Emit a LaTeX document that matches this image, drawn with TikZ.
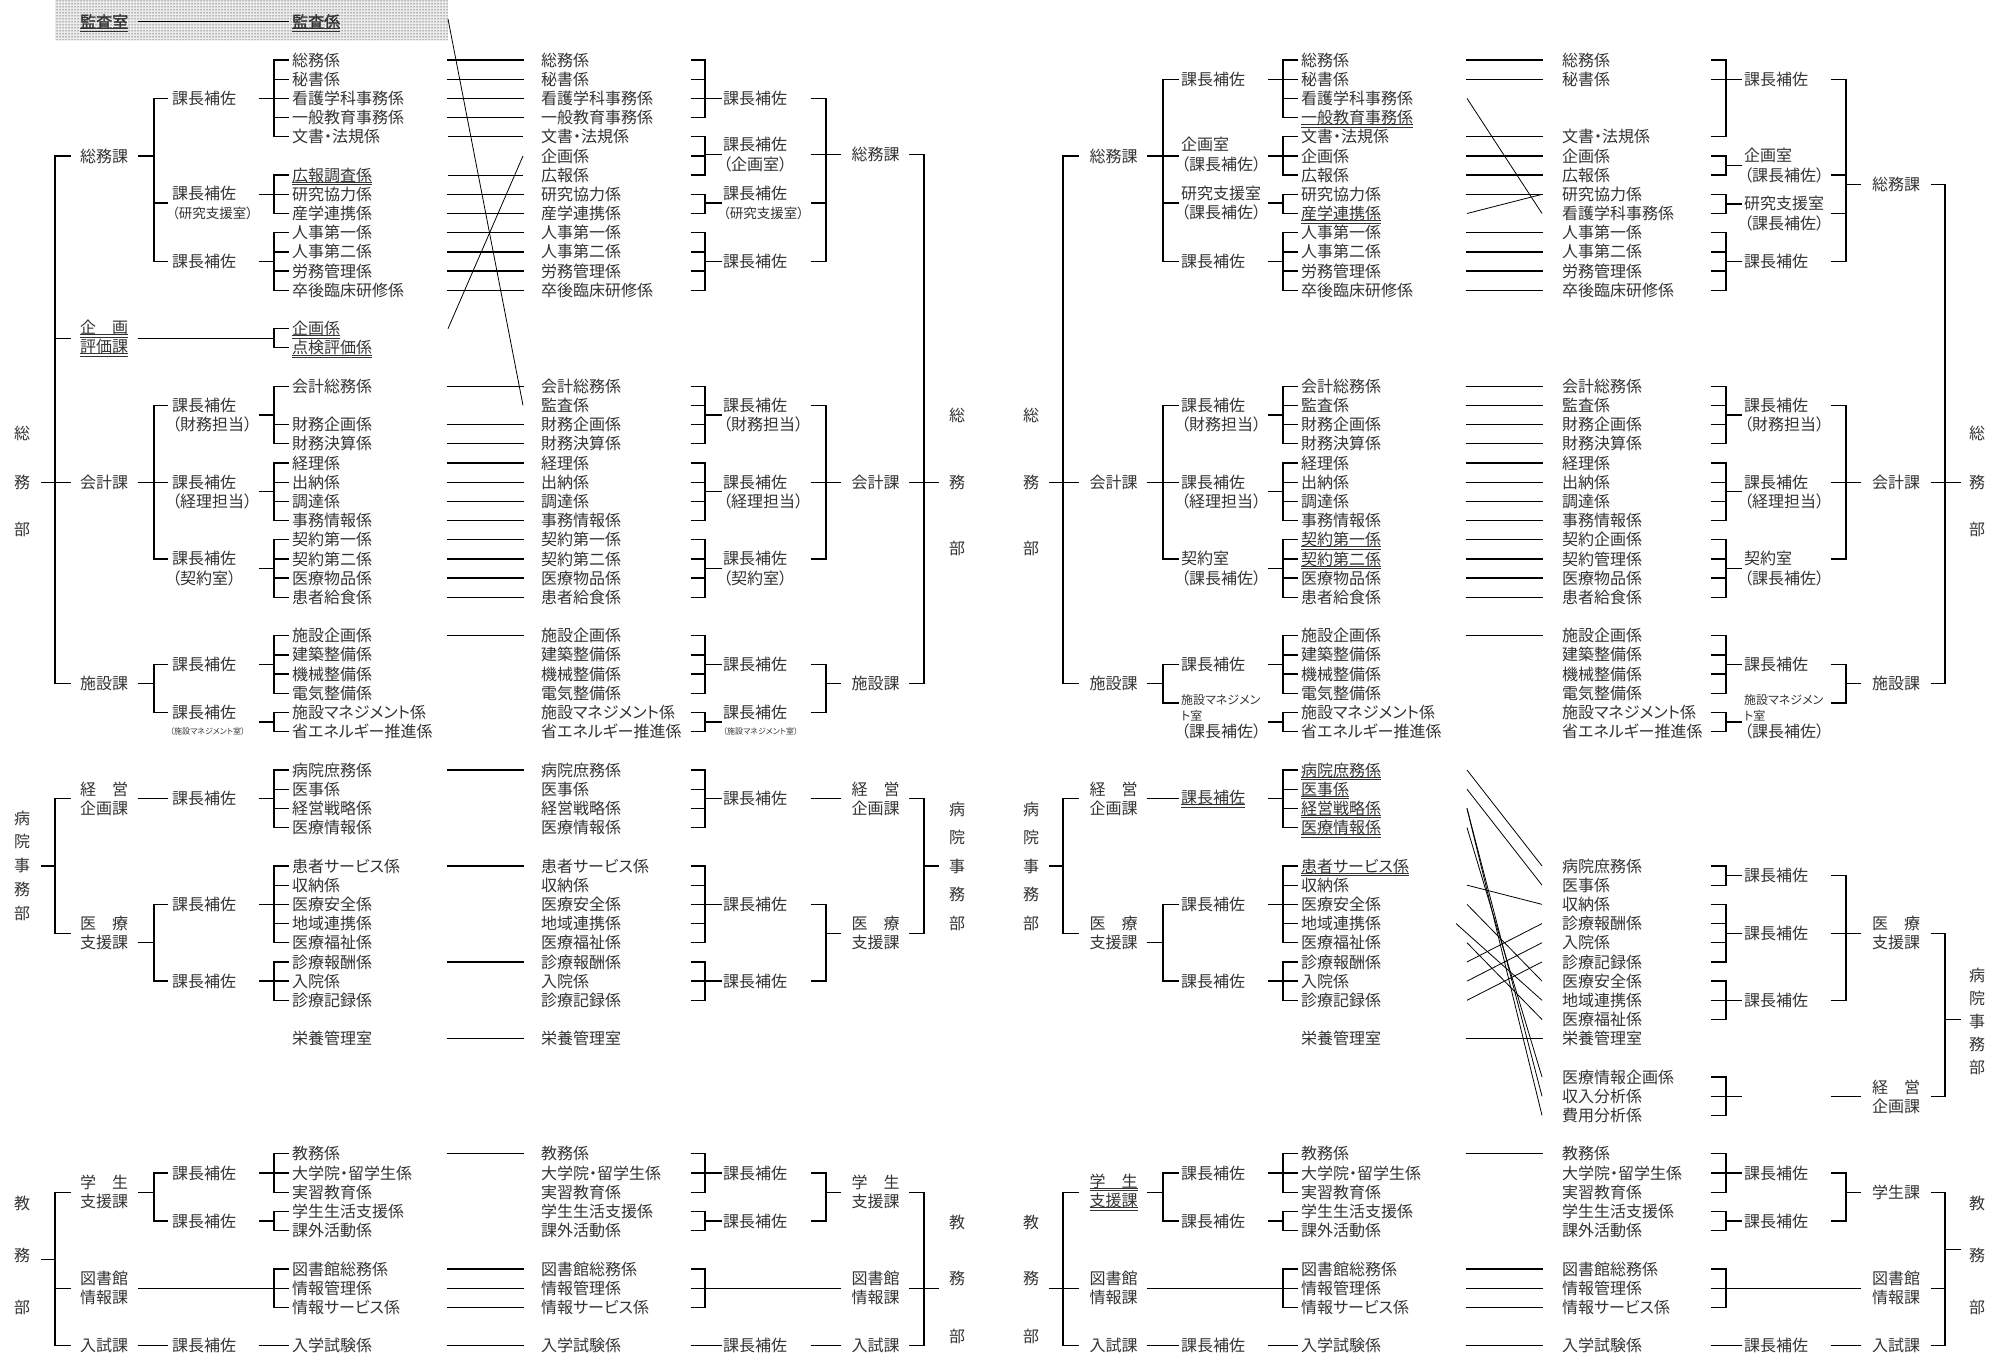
\documentclass[tikz,border=0pt]{standalone}
\usepackage{fontspec}
\setmainfont{Noto Sans CJK JP}[RawFeature=+palt, AutoFakeBold=2]
\usetikzlibrary{patterns}

\newcommand{\mainfs}{\fontsize{16}{19.19}\selectfont}
\newcommand{\midfs}{\fontsize{12}{16}\selectfont}
\newcommand{\tinyfs}{\fontsize{8}{10}\selectfont}
\newcommand{\narrowfs}{\fontsize{13.5}{19.19}\selectfont}
\newcommand{\dul}[1]{\setbox0=\hbox{#1}\rlap{\rule[-1.3pt]{\wd0}{0.7pt}}\rlap{\rule[-3.6pt]{\wd0}{0.7pt}}\box0}
% bracket: (#1,#4) to spine #2 (rows #5..#6), ticks to #3 at rows #7
\newcommand{\brk}[7]{%
  \draw[ln] (#1,#4) -- (#2,#4);
  \draw[ln] (#2,#5) -- (#2,#6);
  \foreach \rr in {#7} {\draw[ln] (#2,\rr) -- (#3,\rr);}}
\newcommand{\rowsat}[3]{\foreach \rr/\nm in #3 {\node[txt] (#2-\rr) at (#1,\rr) {\nm};}}
\newcommand{\jinji}{9/人事第一係, 10/人事第二係, 11/労務管理係, 12/卒後臨床研修係}
\newcommand{\keiri}{19/財務企画係, 20/財務決算係, 21/経理係, 22/出納係, 23/調達係, 24/事務情報係}
\newcommand{\shisetsu}{30/施設企画係, 31/建築整備係, 32/機械整備係, 33/電気整備係, 34/施設マネジメント係, 35/省エネルギー推進係}
\newcommand{\iryou}{43/収納係, 44/医療安全係, 45/地域連携係, 46/医療福祉係, 47/診療報酬係, 48/入院係, 49/診療記録係, 51/栄養管理室}
\newcommand{\kyomu}{57/教務係, 58/大学院・留学生係, 59/実習教育係, 60/学生生活支援係, 61/課外活動係, 63/図書館総務係, 64/情報管理係, 65/情報サービス係, 67/入学試験係}

\begin{document}
\begin{tikzpicture}[x=1pt, y=-19.19pt,
  ln/.style={line width=1.3pt, line cap=rect},
  thinln/.style={line width=0.8pt},
  txt/.style={inner sep=0pt, anchor=west, font=\mainfs, text=black!80, text height=13.3pt, text depth=1.1pt},
  ch/.style={txt, anchor=center},
  lbl/.style={inner sep=0pt, anchor=west, align=left, font=\mainfs, text=black!80},
  dv/.style={inner sep=0pt, align=center, font=\mainfs, text=black!80}]
\useasboundingbox (0,-3.1266) rectangle (1989,67.43);

% left half: left column
\fill[black!8] (55,-3.1266) rectangle (448,-1.04);
\fill[pattern=dots, pattern color=black] (55,-3.1266) rectangle (448,-1.04);
\node[txt] (a-kansa) at (80,-2) {\dul{\bfseries 監査室}};
\node[txt] (a-kansa2) at (292,-2) {\dul{\bfseries 監査係}};
\draw[ln] (139,-2) -- (288,-2);
\foreach \zi/\rr [count=\i] in {総/19.44, 務/22, 部/24.44, 病/39.5, 院/40.74, 事/41.98, 務/43.22, 部/44.46, 教/59.6, 務/62.3, 部/65}
  \node[ch] (a-bu\i) at (22,\rr) {\zi};
\node[dv] (a-soumu) at (104,5) {総務課};
\node[dv] (a-kikaku) at (104,14.5) {\dul{企　画}\\\dul{評価課}};
\node[dv] (a-kaikei) at (104,22) {会計課};
\node[dv] (a-shisetsu) at (104,32.5) {施設課};
\node[dv] (a-keiei) at (104,38.5) {経　営\\企画課};
\node[dv] (a-iryou) at (104,45.5) {医　療\\支援課};
\node[dv] (a-gakusei) at (104,59) {学　生\\支援課};
\node[dv] (a-tosho) at (104,64) {図書館\\情報課};
\node[dv] (a-nyushi) at (104,67) {入試課};
\foreach \rr/\nm [count=\i] in {2/課長補佐, 7.45/{課長補佐\\{\narrowfs （研究支援室）}}, 10.5/課長補佐, 18.5/{課長補佐\\（財務担当）}, 22.5/{課長補佐\\（経理担当）}, 26.5/{課長補佐\\（契約室）}, 31.5/課長補佐, 34/課長補佐, 38.5/課長補佐, 44/課長補佐, 48/課長補佐, 58/課長補佐, 60.5/課長補佐, 67/課長補佐}
  \node[lbl] (a-hosa\i) at (172,\rr) {\nm};
\node[lbl, font=\tinyfs] (a-mgmt) at (170,35) {（施設マネジメント室）};
\rowsat{292}{a}{{0/総務係, 1/秘書係, 2/看護学科事務係, 3/一般教育事務係, 4/文書・法規係, 6/\dul{広報調査係}, 7/研究協力係, 8/産学連携係, 14/\dul{企画係}, 15/\dul{点検評価係}, 17/会計総務係, 25/契約第一係, 26/契約第二係, 27/医療物品係, 28/患者給食係, 37/病院庶務係, 38/医事係, 39/経営戦略係, 40/医療情報係, 42/患者サービス係}}
\rowsat{292}{a}{\jinji}
\rowsat{292}{a}{\keiri}
\rowsat{292}{a}{\shisetsu}
\rowsat{292}{a}{\iryou}
\rowsat{292}{a}{\kyomu}
\brk{42}{55}{70}{22}{5}{32.5}{5,14.5,22,32.5}
\brk{139}{154}{167}{5}{2}{10.5}{2,7.45,10.5}
\brk{260}{274}{288}{2}{0}{4}{0,1,2,3,4}
\brk{260}{274}{288}{7}{6}{8}{6,7,8}
\brk{260}{274}{288}{10.5}{9}{12}{9,10,11,12}
\brk{139}{274}{288}{14.5}{14}{15}{14,15}
\brk{139}{154}{167}{22}{18}{26}{18,22,26}
\brk{260}{274}{288}{18.5}{17}{20}{17,19,20}
\brk{260}{274}{288}{22.5}{21}{24}{21,22,23,24}
\brk{260}{274}{288}{26.5}{25}{28}{25,26,27,28}
\brk{139}{154}{167}{32.5}{31.5}{34}{31.5,34}
\brk{260}{274}{288}{31.5}{30}{33}{30,31,32,33}
\brk{260}{274}{288}{34.5}{34}{35}{34,35}
\brk{42}{55}{70}{42}{38.5}{45.5}{38.5,45.5}
\draw[ln] (139,38.5) -- (167,38.5);
\brk{260}{274}{288}{38.5}{37}{40}{37,38,39,40}
\brk{139}{154}{167}{46}{44}{48}{44,48}
\brk{260}{274}{288}{44}{42}{46}{42,43,44,45,46}
\brk{260}{274}{288}{48}{47}{49}{47,48,49}
\brk{42}{55}{70}{62.5}{59}{67}{59,64,67}
\brk{139}{154}{167}{59}{58}{60.5}{58,60.5}
\brk{260}{274}{288}{58}{57}{59}{57,58,59}
\brk{260}{274}{288}{60.5}{60}{61}{60,61}
\brk{139}{274}{288}{64}{63}{65}{63,64,65}
\draw[ln] (139,67) -- (167,67);
\draw[ln] (260,67) -- (288,67);

% left half: links
\foreach \rr in {0,1,2,3,7,8,9,...,12,17,19,20,...,28,30,...,35,37,...,40,42,...,49,51,57,...,61,63,64,65,67}
  \draw[ln] (448,\rr) -- (523,\rr);
\foreach \rr in {4,6} \draw[thinln] (448,\rr) -- (523,\rr);
\draw[thinln] (448,-2.14) -- (523,18);
\draw[thinln] (448,14) -- (523,5);

% left half: right column
\rowsat{541}{b}{{0/総務係, 1/秘書係, 2/看護学科事務係, 3/一般教育事務係, 4/文書・法規係, 5/企画係, 6/広報係, 7/研究協力係, 8/産学連携係, 17/会計総務係, 18/監査係, 25/契約第一係, 26/契約第二係, 27/医療物品係, 28/患者給食係, 37/病院庶務係, 38/医事係, 39/経営戦略係, 40/医療情報係, 42/患者サービス係}}
\rowsat{541}{b}{\jinji}
\rowsat{541}{b}{\keiri}
\rowsat{541}{b}{\shisetsu}
\rowsat{541}{b}{\iryou}
\rowsat{541}{b}{\kyomu}
\foreach \rr/\nm [count=\i] in {2/課長補佐, 4.93/{課長補佐\\（企画室）}, 7.45/{課長補佐\\{\narrowfs （研究支援室）}}, 10.5/課長補佐, 18.5/{課長補佐\\（財務担当）}, 22.5/{課長補佐\\（経理担当）}, 26.5/{課長補佐\\（契約室）}, 31.5/課長補佐, 34/課長補佐, 38.5/課長補佐, 44/課長補佐, 48/課長補佐, 58/課長補佐, 60.5/課長補佐, 67/課長補佐}
  \node[lbl] (b-hosa\i) at (723,\rr) {\nm};
\node[lbl, font=\tinyfs] (b-mgmt) at (723,35) {（施設マネジメント室）};
\node[dv] (b-soumu) at (875.5,4.93) {総務課};
\node[dv] (b-kaikei) at (875.5,22) {会計課};
\node[dv] (b-shisetsu) at (875.5,32.5) {施設課};
\node[dv] (b-keiei) at (875.5,38.5) {経　営\\企画課};
\node[dv] (b-iryou) at (875.5,45.5) {医　療\\支援課};
\node[dv] (b-gakusei) at (875.5,59) {学　生\\支援課};
\node[dv] (b-tosho) at (875.5,64) {図書館\\情報課};
\node[dv] (b-nyushi) at (875.5,67) {入試課};
\foreach \zi/\rr [count=\i] in {総/18.5, 務/22, 部/25.45, 病/39.05, 院/40.5, 事/42, 務/43.5, 部/45, 教/60.57, 務/63.5, 部/66.5}
  \node[ch] (b-bu\i) at (957,\rr) {\zi};
\brk{721}{705}{692}{2}{0}{3}{0,1,2,3}
\brk{721}{705}{692}{4.93}{4}{6}{4,5,6}
\brk{721}{705}{692}{7.45}{7}{8}{7,8}
\brk{721}{705}{692}{10.5}{9}{12}{9,10,11,12}
\brk{840}{826}{812}{4.93}{2}{10.5}{2,4.93,7.45,10.5}
\brk{721}{705}{692}{18.5}{17}{20}{17,18,19,20}
\brk{721}{705}{692}{22.5}{21}{24}{21,22,23,24}
\brk{721}{705}{692}{26.5}{25}{28}{25,26,27,28}
\brk{840}{826}{812}{22}{18}{26}{18,22,26}
\brk{721}{705}{692}{31.5}{30}{33}{30,31,32,33}
\brk{721}{705}{692}{34.5}{34}{35}{34,35}
\brk{840}{826}{812}{32.5}{31.5}{34}{31.5,34}
\brk{938}{924}{910}{22}{4.93}{32.5}{4.93,22,32.5}
\brk{721}{705}{692}{38.5}{37}{40}{37,38,39,40}
\draw[ln] (812,38.5) -- (840,38.5);
\brk{721}{705}{692}{44}{42}{46}{42,43,44,45,46}
\brk{721}{705}{692}{48}{47}{49}{47,48,49}
\brk{840}{826}{812}{45.5}{44}{48}{44,48}
\brk{938}{924}{910}{42}{38.5}{45.5}{38.5,45.5}
\brk{721}{705}{692}{58}{57}{59}{57,58,59}
\brk{721}{705}{692}{60.5}{60}{61}{60,61}
\brk{840}{826}{812}{59}{58}{60.5}{58,60.5}
\brk{840}{705}{692}{64}{63}{65}{63,64,65}
\draw[ln] (692,67) -- (721,67);
\draw[ln] (812,67) -- (840,67);
\brk{938}{924}{910}{64}{59}{67}{59,64,67}

% right half: left column
\foreach \zi/\rr [count=\i] in {総/18.5, 務/22, 部/25.45, 病/39.05, 院/40.5, 事/42, 務/43.5, 部/45, 教/60.57, 務/63.5, 部/66.5}
  \node[ch] (c-bu\i) at (1031,\rr) {\zi};
\node[dv] (c-soumu) at (1113.5,5) {総務課};
\node[dv] (c-kaikei) at (1113.5,22) {会計課};
\node[dv] (c-shisetsu) at (1113.5,32.5) {施設課};
\node[dv] (c-keiei) at (1113.5,38.5) {経　営\\企画課};
\node[dv] (c-iryou) at (1113.5,45.5) {医　療\\支援課};
\node[dv] (c-gakusei) at (1113.5,59) {\dul{学　生}\\\dul{支援課}};
\node[dv] (c-tosho) at (1113.5,64) {図書館\\情報課};
\node[dv] (c-nyushi) at (1113.5,67) {入試課};
\foreach \rr/\nm [count=\i] in {1/課長補佐, 4.93/{企画室\\（課長補佐）}, 7.45/{研究支援室\\（課長補佐）}, 10.5/課長補佐, 18.5/{課長補佐\\（財務担当）}, 22.5/{課長補佐\\（経理担当）}, 26.5/{契約室\\（課長補佐）}, 31.5/課長補佐, 35/（課長補佐）, 38.5/\dul{課長補佐}, 44/課長補佐, 48/課長補佐, 58/課長補佐, 60.5/課長補佐, 67/課長補佐}
  \node[lbl] (c-hosa\i) at (1181,\rr) {\nm};
\node[lbl, font=\midfs] (c-mgmt) at (1181,33.78) {施設マネジメン\\ト室};
\rowsat{1301}{c}{{0/総務係, 1/秘書係, 2/看護学科事務係, 3/\dul{一般教育事務係}, 4/文書・法規係, 5/企画係, 6/広報係, 7/研究協力係, 8/\dul{産学連携係}, 17/会計総務係, 18/監査係, 25/\dul{契約第一係}, 26/\dul{契約第二係}, 27/医療物品係, 28/患者給食係, 37/\dul{病院庶務係}, 38/\dul{医事係}, 39/\dul{経営戦略係}, 40/\dul{医療情報係}, 42/\dul{患者サービス係}}}
\rowsat{1301}{c}{\jinji}
\rowsat{1301}{c}{\keiri}
\rowsat{1301}{c}{\shisetsu}
\rowsat{1301}{c}{\iryou}
\rowsat{1301}{c}{\kyomu}
\brk{1050}{1063}{1078}{22}{5}{32.5}{5,22,32.5}
\brk{1148}{1163}{1178}{5}{1}{10.5}{1,5,7.45,10.5}
\brk{1269}{1283}{1297}{1}{0}{3}{0,1,2,3}
\brk{1269}{1283}{1297}{5}{4}{6}{4,5,6}
\brk{1269}{1283}{1297}{7.45}{7}{8}{7,8}
\brk{1269}{1283}{1297}{10.5}{9}{12}{9,10,11,12}
\brk{1148}{1163}{1178}{22}{18}{26}{18,22,26}
\brk{1269}{1283}{1297}{18.5}{17}{20}{17,18,19,20}
\brk{1269}{1283}{1297}{22.5}{21}{24}{21,22,23,24}
\brk{1269}{1283}{1297}{26.5}{25}{28}{25,26,27,28}
\brk{1148}{1163}{1178}{32.5}{31.5}{33.5}{31.5,33.5}
\brk{1269}{1283}{1297}{31.5}{30}{33}{30,31,32,33}
\brk{1269}{1283}{1297}{34.5}{34}{35}{34,35}
\brk{1050}{1063}{1078}{42}{38.5}{45.5}{38.5,45.5}
\draw[ln] (1148,38.5) -- (1178,38.5);
\brk{1269}{1283}{1297}{38.5}{37}{40}{37,38,39,40}
\brk{1148}{1163}{1178}{46}{44}{48}{44,48}
\brk{1269}{1283}{1297}{44}{42}{46}{42,43,44,45,46}
\brk{1269}{1283}{1297}{48}{47}{49}{47,48,49}
\brk{1050}{1063}{1078}{64}{59}{67}{59,64,67}
\brk{1148}{1163}{1178}{59}{58}{60.5}{58,60.5}
\brk{1269}{1283}{1297}{58}{57}{59}{57,58,59}
\brk{1269}{1283}{1297}{60.5}{60}{61}{60,61}
\brk{1148}{1283}{1297}{64}{63}{65}{63,64,65}
\draw[ln] (1148,67) -- (1178,67);
\draw[ln] (1269,67) -- (1297,67);

% right half: links
\foreach \rr in {0,1,4,5,6,7,9,10,11,12,17,18,...,28,30,...,35,51,57,...,61,63,64,65,67}
  \draw[ln] (1467,\rr) -- (1542,\rr);
\foreach \p/\q in {2/8, 8/7, 37/42, 38/43, 39/54, 39/55, 40/53, 43/44, 44/48, 46/50, 47/45, 48/46, 49/47}
  \draw[thinln] (1467,\p) -- (1542,\q);
\draw[thinln] (1456,45) -- (1542,49);

% right half: right column
\rowsat{1562}{d}{{0/総務係, 1/秘書係, 4/文書・法規係, 5/企画係, 6/広報係, 7/研究協力係, 8/看護学科事務係, 17/会計総務係, 18/監査係, 25/契約企画係, 26/契約管理係, 27/医療物品係, 28/患者給食係, 42/病院庶務係, 43/医事係, 44/収納係, 45/診療報酬係, 46/入院係, 47/診療記録係, 48/医療安全係, 49/地域連携係, 50/医療福祉係, 51/栄養管理室, 53/医療情報企画係, 54/収入分析係, 55/費用分析係}}
\rowsat{1562}{d}{\jinji}
\rowsat{1562}{d}{\keiri}
\rowsat{1562}{d}{\shisetsu}
\rowsat{1562}{d}{\kyomu}
\foreach \rr/\nm [count=\i] in {1/課長補佐, 5.5/{企画室\\（課長補佐）}, 8/{研究支援室\\（課長補佐）}, 10.5/課長補佐, 18.5/{課長補佐\\（財務担当）}, 22.5/{課長補佐\\（経理担当）}, 26.5/{契約室\\（課長補佐）}, 31.5/課長補佐, 35/（課長補佐）, 42.5/課長補佐, 45.5/課長補佐, 49/課長補佐, 58/課長補佐, 60.5/課長補佐, 67/課長補佐}
  \node[lbl] (d-hosa\i) at (1744,\rr) {\nm};
\node[lbl, font=\midfs] (d-mgmt) at (1744,33.78) {施設マネジメン\\ト室};
\node[dv] (d-soumu) at (1896,6.5) {総務課};
\node[dv] (d-kaikei) at (1896,22) {会計課};
\node[dv] (d-shisetsu) at (1896,32.5) {施設課};
\node[dv] (d-iryou) at (1896,45.5) {医　療\\支援課};
\node[dv] (d-keiei) at (1896,54.05) {経　営\\企画課};
\node[dv] (d-gakusei) at (1896,59) {学生課};
\node[dv] (d-tosho) at (1896,64) {図書館\\情報課};
\node[dv] (d-nyushi) at (1896,67) {入試課};
\foreach \zi/\rr [count=\i] in {総/19.46, 務/22, 部/24.46, 病/47.7, 院/48.9, 事/50.1, 務/51.3, 部/52.5, 教/59.6, 務/62.27, 部/65}
  \node[ch] (d-bu\i) at (1977,\rr) {\zi};
\brk{1741}{1726}{1712}{1}{0}{4}{0,1,4}
\brk{1741}{1726}{1712}{5.5}{5}{6}{5,6}
\brk{1741}{1726}{1712}{7.5}{7}{8}{7,8}
\brk{1741}{1726}{1712}{10.5}{9}{12}{9,10,11,12}
\brk{1860}{1846}{1832}{6.5}{1}{10.5}{1,6,8,10.5}
\brk{1741}{1726}{1712}{18.5}{17}{20}{17,18,19,20}
\brk{1741}{1726}{1712}{22.5}{21}{24}{21,22,23,24}
\brk{1741}{1726}{1712}{26.5}{25}{28}{25,26,27,28}
\brk{1860}{1846}{1832}{22}{18}{26}{18,22,26}
\brk{1741}{1726}{1712}{31.5}{30}{33}{30,31,32,33}
\brk{1741}{1726}{1712}{34.5}{34}{35}{34,35}
\brk{1860}{1846}{1832}{32.5}{31.5}{33.5}{31.5,33.5}
\brk{1960}{1945}{1932}{22}{6.5}{32.5}{6.5,22,32.5}
\brk{1741}{1726}{1712}{42.5}{42}{43}{42,43}
\brk{1741}{1726}{1712}{45.5}{44}{47}{44,45,46,47}
\brk{1741}{1726}{1712}{49}{48}{50}{48,49,50}
\brk{1860}{1846}{1832}{45.5}{42.5}{49}{42.5,45.5,49}
\brk{1741}{1726}{1712}{54}{53}{55}{53,54,55}
\draw[ln] (1832,54) -- (1860,54);
\brk{1960}{1945}{1932}{50}{45.5}{54}{45.5,54}
\brk{1741}{1726}{1712}{58}{57}{59}{57,58,59}
\brk{1741}{1726}{1712}{60.5}{60}{61}{60,61}
\brk{1860}{1846}{1832}{59}{58}{60.5}{58,60.5}
\brk{1860}{1726}{1712}{64}{63}{65}{63,64,65}
\draw[ln] (1712,67) -- (1741,67);
\draw[ln] (1832,67) -- (1860,67);
\brk{1960}{1945}{1932}{62}{59}{67}{59,64,67}
\end{tikzpicture}
\end{document}
